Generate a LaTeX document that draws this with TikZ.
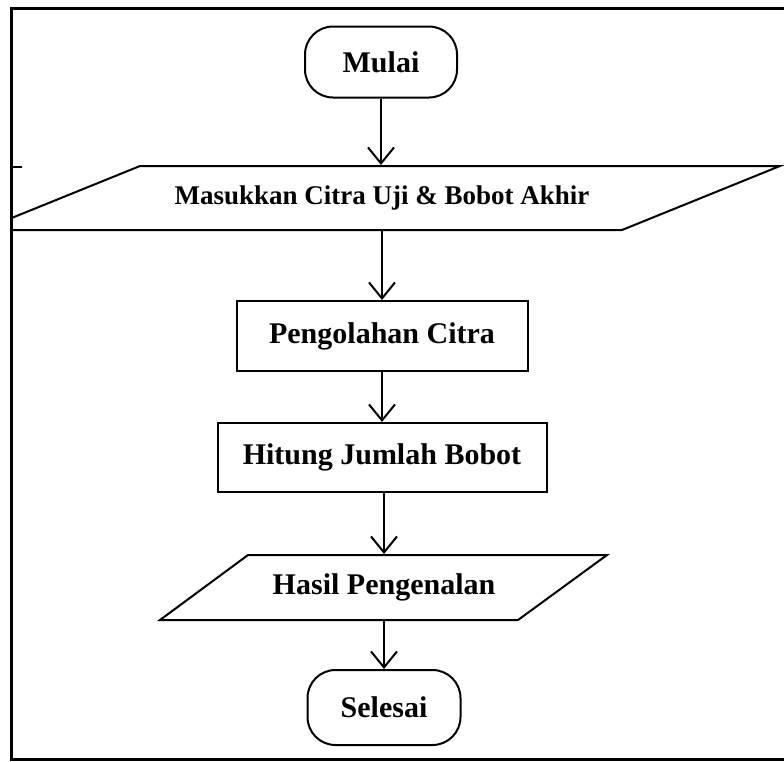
\documentclass[tikz,border=0pt]{standalone}
\usepackage{fontspec}
\setmainfont{Liberation Serif}
\usetikzlibrary{arrows.meta}
\tikzset{
  base/.style={font=\bfseries\fontsize{30}{34}\selectfont, inner sep=0pt, line width=2pt},
  term/.style={base, draw, rounded corners=28pt, minimum width=152pt, minimum height=71pt},
  proc/.style={base, draw, minimum height=70pt},
  io/.style={base, draw=none},
  shapeline/.style={line width=2pt, line join=miter},
  flow/.style={line width=2pt, -{Straight Barb[length=16pt,width=26pt,line width=2pt]}},
  frameline/.style={line width=3pt}
}
\begin{document}
\begin{tikzpicture}[x=1pt,y=-1pt]
\useasboundingbox (0,0) rectangle (784,761);
% frame
\draw[frameline] (784,8) -- (11,8) -- (11,759) -- (784,759);
\draw[line width=2pt] (11,167) -- (22,167);
% nodes
\node[term] (mulai) at (381,62) {Mulai};
\node[io, font=\bfseries\fontsize{27}{30}\selectfont, minimum height=64pt, minimum width=420pt] (input) at (382,198) {Masukkan Citra Uji \& Bobot Akhir};
\node[proc, minimum width=291pt] (olah) at (382,336) {Pengolahan Citra};
\node[proc, minimum width=329pt, minimum height=69pt] (hitung) at (382,457.5) {Hitung Jumlah Bobot};
\node[io, minimum height=65pt, minimum width=300pt] (hasil) at (384,587.5) {Hasil Pengenalan};
\node[term, minimum width=153pt, minimum height=75pt] (selesai) at (384,707.5) {Selesai};
% parallelograms
\begin{scope}
\clip (11,0) rectangle (784,761);
\draw[shapeline] (-18,230) -- (140,166) -- (780,166) -- (622,230) -- cycle;
\end{scope}
\draw[shapeline] (160,620) -- (248,555) -- (607,555) -- (518,620) -- cycle;
% connectors
\draw[flow] (mulai.south) -- (mulai.south |- input.north);
\draw[flow] (input.south -| olah.north) -- (olah.north);
\draw[flow] (olah.south) -- (olah.south |- hitung.north);
\draw[flow] (hitung.south -| hasil.north) -- (hasil.north);
\draw[flow] (hasil.south) -- (selesai.north);
\end{tikzpicture}
\end{document}
